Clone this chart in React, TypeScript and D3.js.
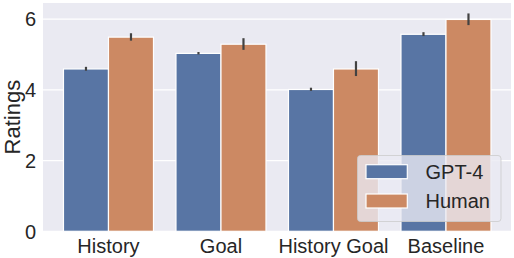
import React from "react";
import * as d3 from "d3";

const categories = ["History", "Goal", "History Goal", "Baseline"];
const seriesNames = ["GPT-4", "Human"];
const gptValues = [4.59, 5.03, 4.01, 5.57];
const gptLow = [4.54, 5.0, 3.97, 5.52];
const gptHigh = [4.65, 5.07, 4.06, 5.63];
const humanValues = [5.49, 5.29, 4.59, 5.99];
const humanLow = [5.39, 5.13, 4.39, 5.83];
const humanHigh = [5.6, 5.46, 4.81, 6.16];
const yTicks = [0, 2, 4, 6];

const W = 514;
const H = 258;
const plot = { left: 43, right: 511, top: 3, bottom: 231.3 };
const colors = ["#5875a4", "#cc8963"];
const font = "'Liberation Sans', Arial, sans-serif";
const textColor = "#262626";

export default function App() {
  const x = d3.scaleLinear().domain([-0.582, 3.578]).range([plot.left, plot.right]);
  const y = d3.scaleLinear().domain([0, 6.455]).range([plot.bottom, plot.top]);
  const bw = x(0.4) - x(0);
  const series = [
    { name: seriesNames[0], vals: gptValues, lo: gptLow, hi: gptHigh, off: -0.4 },
    { name: seriesNames[1], vals: humanValues, lo: humanLow, hi: humanHigh, off: 0 },
  ];
  return (
    <svg width={W} height={H} style={{ position: "absolute", left: 0, top: 0, background: "#fff" }}>
      <rect x={plot.left} y={plot.top} width={plot.right - plot.left} height={plot.bottom - plot.top} fill="#eaeaf2" />
      {yTicks.map((t) => (
        <line key={"g" + t} x1={plot.left} x2={plot.right} y1={y(t)} y2={y(t)} stroke="#fff" strokeWidth={1.2} />
      ))}
      {series.map((s, si) =>
        s.vals.map((v, i) => (
          <rect
            key={si + "-" + i}
            x={x(i + s.off)}
            y={y(v)}
            width={bw}
            height={y(0) - y(v)}
            fill={colors[si]}
            stroke="#fff"
            strokeWidth={1.2}
          />
        ))
      )}
      {series.map((s, si) =>
        s.vals.map((v, i) => (
          <line
            key={"e" + si + "-" + i}
            x1={x(i + s.off + 0.2)}
            x2={x(i + s.off + 0.2)}
            y1={y(s.lo[i])}
            y2={y(s.hi[i])}
            stroke="#424242"
            strokeWidth={2.2}
          />
        ))
      )}
      {yTicks.map((t) => (
        <text key={"yt" + t} x={36} y={y(t)} dy="0.36em" textAnchor="end" fontFamily={font} fontSize={20} fill={textColor}>
          {t}
        </text>
      ))}
      {categories.map((c, i) => (
        <text key={"xt" + i} x={x(i)} y={253} textAnchor="middle" fontFamily={font} fontSize={20} fill={textColor}>
          {c}
        </text>
      ))}
      <text
        transform={`translate(${20},${(plot.top + plot.bottom) / 2}) rotate(-90)`}
        textAnchor="middle"
        fontFamily={font}
        fontSize={22}
        fill={textColor}
      >
        Ratings
      </text>
      <g>
        <rect x={357.5} y={155.5} width={143.5} height={66} rx={3} fill="#eaeaf2" fillOpacity={0.8} stroke="#cccccc" strokeOpacity={0.8} strokeWidth={1} />
        {seriesNames.map((n, i) => (
          <g key={n}>
            <rect x={366} y={164.7 + i * 29.3} width={41.3} height={14} fill={colors[i]} stroke="#fff" strokeWidth={1.2} />
            <text x={425.5} y={171.7 + i * 29.3} dy="0.36em" fontFamily={font} fontSize={20} fill={textColor}>
              {n}
            </text>
          </g>
        ))}
      </g>
    </svg>
  );
}
